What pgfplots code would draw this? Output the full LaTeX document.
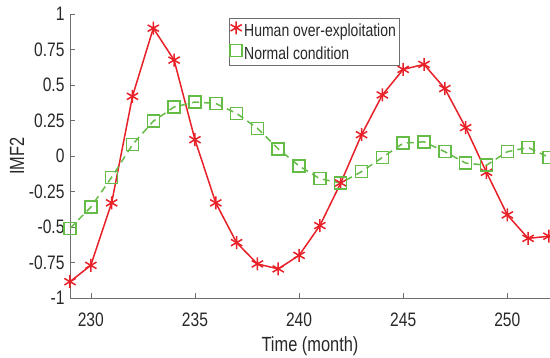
\documentclass[border=0pt]{standalone}
\usepackage{fontspec}
\setmainfont[FakeStretch=0.8]{Liberation Sans}
\usepackage{pgfplots}
\pgfplotsset{compat=1.18}
\definecolor{myred}{RGB}{232,32,40}
\definecolor{mygreen}{RGB}{100,188,70}
\definecolor{axgray}{RGB}{110,110,110}
\definecolor{txtgray}{RGB}{40,40,40}
\begin{document}
\begin{tikzpicture}
\useasboundingbox (-70pt,-60pt) rectangle (480pt,298pt);
\begin{axis}[
  at={(0,0)}, anchor=south west,
  scale only axis, width=480pt, height=284pt,
  xmin=229, xmax=252.05, ymin=-1, ymax=1,
  axis x line*=bottom, axis y line*=left,
  axis line style={axgray, line width=0.6pt},
  every tick/.style={axgray, line width=0.6pt},
  tick align=inside, major tick length=5pt,
  xtick={230,235,240,245,250},
  ytick={-1,-0.75,-0.5,-0.25,0,0.25,0.5,0.75,1},
  yticklabels={-1,-0.75,-0.5,-0.25,0,0.25,0.5,0.75,1},
  /pgf/number format/assume math mode=true,
  tick label style={font=\fontsize{19.5}{19.5}\selectfont, text=txtgray},
  xticklabel style={yshift=-11pt},
  yticklabel style={xshift=-2pt},
  xlabel={Time (month)}, ylabel={IMF2},
  label style={font=\fontsize{20.5}{20.5}\selectfont, text=txtgray},
  xlabel style={yshift=-3pt},
  ylabel style={yshift=-2pt},
  clip=false,
  legend style={at={(0.331,0.986)}, anchor=north west, draw=axgray, line width=0.6pt,
    font=\fontsize{17.5}{17.5}\selectfont, text=txtgray, inner xsep=1pt, inner ysep=3pt, row sep=4.5pt},
  legend cell align=left,
  legend image code/.code={\draw[#1] plot[only marks] coordinates {(0.25em,0.3em)};},
]
\addplot[color=myred, line width=1.5pt, mark=asterisk, mark size=6.5pt, mark options={solid, line width=1.5pt}]
coordinates {
(229,-0.885) (230,-0.77) (231,-0.33) (232,0.42) (233,0.90) (234,0.675) (235,0.115)
(236,-0.33) (237,-0.61) (238,-0.76) (239,-0.795) (240,-0.70) (241,-0.49) (242,-0.19)
(243,0.15) (244,0.43) (245,0.61) (246,0.645) (247,0.475) (248,0.20) (249,-0.115)
(250,-0.415) (251,-0.58) (252,-0.565)
};
\addlegendentry{Human over-exploitation}
\addplot[color=mygreen, line width=1.5pt, dashed, dash pattern=on 7pt off 5pt, mark=square, mark size=6pt, mark options={solid, line width=1.5pt}]
coordinates {
(229,-0.51) (230,-0.36) (231,-0.15) (232,0.08) (233,0.245) (234,0.345) (235,0.38)
(236,0.37) (237,0.30) (238,0.195) (239,0.05) (240,-0.07) (241,-0.16) (242,-0.19)
(243,-0.11) (244,-0.01) (245,0.09) (246,0.10) (247,0.03) (248,-0.05) (249,-0.065)
(250,0.03) (251,0.06) (252,-0.01)
};
\addlegendentry{Normal condition}
\end{axis}
\end{tikzpicture}
\end{document}
